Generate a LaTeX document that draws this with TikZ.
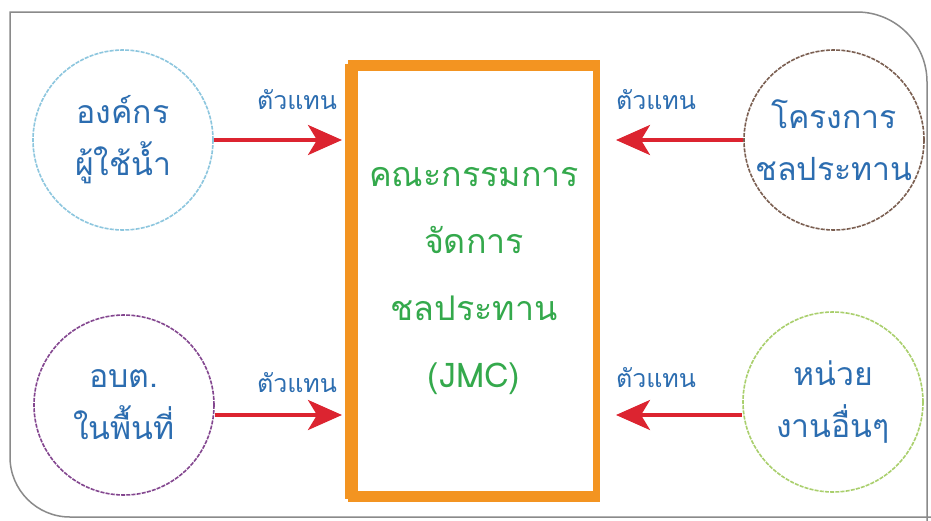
\documentclass[tikz,border=0pt]{standalone}
\usepackage{fontspec}
\newfontfamily\thai[Script=Thai]{Loma}
\usetikzlibrary{arrows.meta}
\definecolor{frame}{HTML}{8A8A8A}
\definecolor{jmcorange}{HTML}{F39421}
\definecolor{arrowred}{HTML}{DC2430}
\definecolor{txtblue}{HTML}{2C6DB0}
\definecolor{txtgreen}{HTML}{34A94C}
\definecolor{cblue}{HTML}{8CC6DE}
\definecolor{cbrown}{HTML}{7A5E50}
\definecolor{cpurple}{HTML}{83468F}
\definecolor{cgreen}{HTML}{A9CF6C}
\tikzset{
  circ/.style={circle, draw=#1, minimum size=180pt, line width=1.6pt,
    dash pattern=on 4pt off 1.2pt, font=\thai\fontsize{32}{52}\selectfont,
    text=txtblue, align=center, inner sep=0pt},
  rep/.style={font=\thai\fontsize{25}{28}\selectfont, text=txtblue},
  link/.style={draw=arrowred, line width=3.5pt,
    -{Stealth[length=34pt,width=30pt,inset=9pt]}},
  jmcbox/.style={draw=jmcorange, line width=7pt, minimum width=245pt,
    minimum height=428pt, align=center, text=txtgreen,
    font=\thai\fontsize{34}{67}\selectfont}
}
\begin{document}
\begin{tikzpicture}[x=1pt,y=-1pt]
\useasboundingbox[fill=white] (0,0) rectangle (931,520);
% outer frame
\draw[frame, line width=1.5pt] (10,300) -- (10,12) -- (850,12)
  [rounded corners=70pt] -- (927,12) -- (927,560);
\draw[frame, line width=1.5pt, rounded corners=60pt] (10,300) -- (10,517) -- (960,517);
% central box
\node[jmcbox] (jmc) at (474,281) {คณะกรรมการ\\จัดการ\\ชลประทาน\\(JMC)};
\draw[jmcorange, line width=13pt]
  ([xshift=3pt]jmc.north west) -- ([xshift=3pt]jmc.south west);
\draw[jmcorange, line width=11pt]
  ([yshift=-2pt]jmc.north west) -- ([yshift=-2pt]jmc.north east);
\draw[jmcorange, line width=11pt]
  ([yshift=2pt]jmc.south west) -- ([yshift=2pt]jmc.south east);
% circles
\node[circ=cblue] (uwo) at (123,140) {องค์กร\\ผู้ใช้น้ำ};
\node[circ=cbrown] (irr) at (834,140) {โครงการ\\ชลประทาน};
\node[circ=cpurple] (sao) at (124,405) {อบต.\\ในพื้นที่};
\node[circ=cgreen] (oth) at (833,402) {หน่วย\\งานอื่นๆ};
% arrows
\draw[link] (uwo.east) -- ([xshift=-6pt]jmc.west |- uwo.east);
\draw[link] (irr.west) -- ([xshift=16pt]jmc.east |- irr.west);
\draw[link] (sao.east |- 0,415) -- ([xshift=-6pt]jmc.west |- 0,415);
\draw[link] (oth.west |- 0,415) -- ([xshift=16pt]jmc.east |- 0,415);
% labels
\node[rep] (r1) at (297,100) {ตัวแทน};
\node[rep] (r2) at (656,100) {ตัวแทน};
\node[rep] (r3) at (297,383) {ตัวแทน};
\node[rep] (r4) at (656,378) {ตัวแทน};
\end{tikzpicture}
\end{document}
